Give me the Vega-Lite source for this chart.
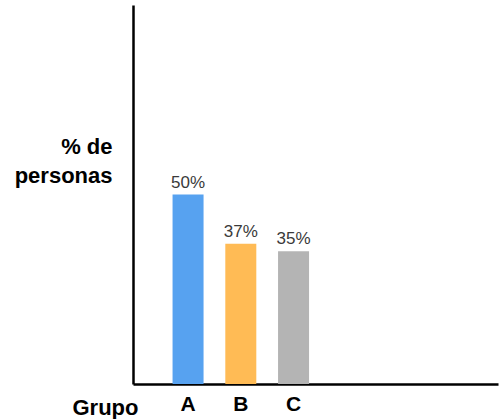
{
  "$schema": "https://vega.github.io/schema/vega-lite/v6.json",
  "width": 365,
  "height": 379,
  "autosize": {"type": "none"},
  "padding": {"left": 133, "top": 5, "right": 1, "bottom": 35},
  "background": "white",
  "config": {
    "view": {"stroke": null},
    "font": "Liberation Sans"
  },
  "data": {
    "values": [
      {"grupo": "A", "pct": 50, "label": "50%"},
      {"grupo": "B", "pct": 37, "label": "37%"},
      {"grupo": "C", "pct": 35, "label": "35%"}
    ]
  },
  "encoding": {
    "x": {
      "field": "grupo",
      "type": "nominal",
      "scale": {
        "domain": ["A", "B", "C", "_1", "_2", "_3"],
        "paddingInner": 0.4123,
        "paddingOuter": 0.666,
        "align": 0.563
      },
      "axis": {
        "title": "Grupo",
        "titleFont": "Liberation Sans",
        "titleFontSize": 22,
        "titleFontWeight": "bold",
        "titleColor": "black",
        "titleAlign": "right",
        "titleAnchor": "start",
        "titleBaseline": "alphabetic",
        "titleX": 5,
        "titleY": 30,
        "labelAngle": 0,
        "labelExpr": "indexof(['A','B','C'], datum.value) >= 0 ? datum.value : ''",
        "labelFont": "Liberation Sans",
        "labelFontSize": 21,
        "labelFontWeight": "bold",
        "labelColor": "black",
        "labelBaseline": "alphabetic",
        "labelPadding": 26,
        "ticks": false,
        "domainColor": "black",
        "domainWidth": 2.5
      }
    },
    "y": {
      "field": "pct",
      "type": "quantitative",
      "scale": {"domain": [0, 100]},
      "axis": {
        "title": ["% de", "personas"],
        "titleFont": "Liberation Sans",
        "titleFontSize": 22,
        "titleFontWeight": "bold",
        "titleColor": "black",
        "titleAngle": 0,
        "titleAlign": "right",
        "titleBaseline": "alphabetic",
        "titleLineHeight": 29,
        "titleX": -21,
        "titleY": 148,
        "labels": false,
        "ticks": false,
        "grid": false,
        "domainColor": "black",
        "domainWidth": 2.5
      }
    }
  },
  "layer": [
    {
      "mark": {"type": "bar"},
      "encoding": {
        "color": {
          "field": "grupo",
          "type": "nominal",
          "scale": {"domain": ["A", "B", "C"], "range": ["#57a2f0", "#ffbb55", "#b4b4b4"]},
          "legend": null
        }
      }
    },
    {
      "mark": {"type": "text", "baseline": "alphabetic", "dy": -7, "fontSize": 17, "color": "#3a3a3a", "font": "Liberation Sans"},
      "encoding": {"text": {"field": "label"}}
    }
  ]
}
